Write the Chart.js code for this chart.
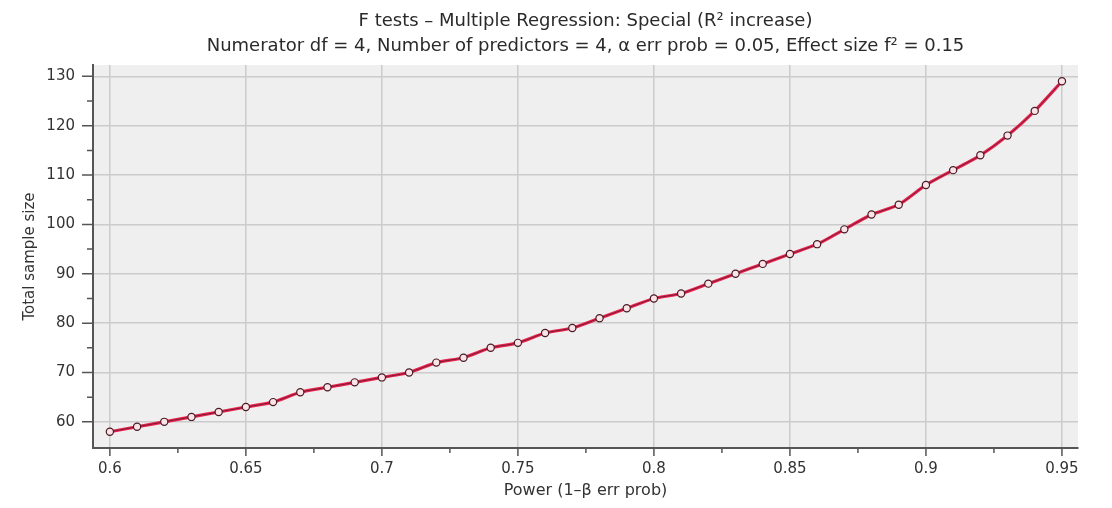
<!DOCTYPE html>
<html>
<head>
<meta charset="utf-8">
<script src="https://cdn.jsdelivr.net/npm/chart.js@4/dist/chart.umd.min.js"></script>
<style>
  html, body { margin: 0; padding: 0; background: #ffffff; }
  #wrap { width: 1112px; height: 508px; position: relative; }
</style>
</head>
<body>
<div id="wrap"><canvas id="chart"></canvas></div>
<script>
// power (1-beta) and the total sample size
const power = [0.60, 0.61, 0.62, 0.63, 0.64, 0.65, 0.66, 0.67, 0.68, 0.69,
               0.70, 0.71, 0.72, 0.73, 0.74, 0.75, 0.76, 0.77, 0.78, 0.79,
               0.80, 0.81, 0.82, 0.83, 0.84, 0.85, 0.86, 0.87, 0.88, 0.89,
               0.90, 0.91, 0.92, 0.93, 0.94, 0.95];
const sampleSize = [58, 59, 60, 61, 62, 63, 64, 66, 67, 68,
                    69, 70, 72, 73, 75, 76, 78, 79, 81, 83,
                    85, 86, 88, 90, 92, 94, 96, 99, 102, 104,
                    108, 111, 114, 118, 123, 129];

const xMajor = [0.6, 0.65, 0.7, 0.75, 0.8, 0.85, 0.9, 0.95];
const xLabels = ["0.6", "0.65", "0.7", "0.75", "0.8", "0.85", "0.9", "0.95"];
const xMinor = [0.625, 0.675, 0.725, 0.775, 0.825, 0.875, 0.925];
const yMajor = [60, 70, 80, 90, 100, 110, 120, 130];
const yLabels = ["60", "70", "80", "90", "100", "110", "120", "130"];
const yMinor = [65, 75, 85, 95, 105, 115, 125];

const titleText = "F tests \u2013 Multiple Regression: Special (R\u00b2 increase)";
const subtitleText = "Numerator df = 4, Number of predictors = 4, \u03b1 err prob = 0.05, Effect size f\u00b2 = 0.15";
const xTitle = "Power (1\u2013\u03b2 err prob)";
const yTitle = "Total sample size";

const FONT = "'DejaVu Sans', sans-serif";

const points = power.map((p, i) => ({ x: p, y: sampleSize[i] }));

// plot area fill
const areaFill = {
  id: "areaFill",
  beforeDraw(chart) {
    const { ctx, chartArea: a } = chart;
    ctx.save();
    ctx.fillStyle = "#efefef";
    ctx.fillRect(a.left, a.top, a.right - a.left, a.bottom - a.top);
    ctx.restore();
  }
};

// title lines centred on the plot area
const centredTitle = {
  id: "centredTitle",
  afterDraw(chart) {
    const { ctx, chartArea: a } = chart;
    const cx = (a.left + a.right) / 2;
    ctx.save();
    ctx.fillStyle = "#2a2a2a";
    ctx.textAlign = "center";
    ctx.textBaseline = "middle";
    ctx.font = "18px " + FONT;
    ctx.fillText(titleText, cx, 21);
    ctx.fillText(subtitleText, cx, 46);
    ctx.restore();
  }
};

// outward tick marks, long for labelled ticks, short between them
const tickMarks = {
  id: "tickMarks",
  afterDraw(chart) {
    const { ctx, chartArea: a, scales } = chart;
    ctx.save();
    ctx.strokeStyle = "#555";
    ctx.lineWidth = 1.5;
    ctx.beginPath();
    xMajor.forEach(v => { const px = scales.x.getPixelForValue(v); ctx.moveTo(px, a.bottom); ctx.lineTo(px, a.bottom + 8); });
    xMinor.forEach(v => { const px = scales.x.getPixelForValue(v); ctx.moveTo(px, a.bottom); ctx.lineTo(px, a.bottom + 5); });
    yMajor.forEach(v => { const py = scales.y.getPixelForValue(v); ctx.moveTo(a.left, py); ctx.lineTo(a.left - 11, py); });
    yMinor.forEach(v => { const py = scales.y.getPixelForValue(v); ctx.moveTo(a.left, py); ctx.lineTo(a.left - 6, py); });
    ctx.stroke();
    ctx.restore();
  }
};

function setTicks(major, minor) {
  return scale => {
    scale.ticks = major.concat(minor).sort((a, b) => a - b).map(v => ({ value: v }));
  };
}

const chart = new Chart(document.getElementById("chart"), {
  type: "line",
  data: {
    datasets: [
      {
        data: points,
        borderColor: "#ea2450",
        borderWidth: 3.2,
        pointRadius: 0,
        tension: 0.2,
        order: 2
      },
      {
        data: points,
        borderColor: "#5a1a28",
        borderWidth: 0.8,
        tension: 0.2,
        pointRadius: 3.6,
        pointBorderWidth: 1.2,
        pointBorderColor: "#4a1a24",
        pointBackgroundColor: "#fbe3e8",
        order: 1
      }
    ]
  },
  options: {
    responsive: true,
    maintainAspectRatio: false,
    animation: false,
    layout: { padding: { top: 65, right: 34, left: 0, bottom: 0 } },
    plugins: { legend: { display: false }, tooltip: { enabled: false } },
    scales: {
      x: {
        type: "linear",
        min: 0.5938,
        max: 0.9559,
        afterBuildTicks: setTicks(xMajor, xMinor),
        afterFit: s => { s.height = 60; },
        grid: {
          drawTicks: false,
          lineWidth: 1.5,
          color: c => (c.tick && xMajor.includes(c.tick.value)) ? "#cbcbcb" : "rgba(0,0,0,0)"
        },
        border: { display: true, color: "#555", width: 2 },
        ticks: {
          autoSkip: false,
          maxRotation: 0,
          padding: 12,
          color: "#333",
          font: { family: FONT, size: 15 },
          callback: v => { const i = xMajor.indexOf(v); return i >= 0 ? xLabels[i] : ""; }
        },
        title: {
          display: true,
          text: xTitle,
          color: "#333",
          font: { family: FONT, size: 16 },
          padding: { top: 0, bottom: 8 }
        }
      },
      y: {
        type: "linear",
        min: 54.7,
        max: 132.3,
        afterBuildTicks: setTicks(yMajor, yMinor),
        afterFit: s => { s.width = 93; },
        grid: {
          drawTicks: false,
          lineWidth: 1.5,
          color: c => (c.tick && yMajor.includes(c.tick.value)) ? "#cbcbcb" : "rgba(0,0,0,0)"
        },
        border: { display: true, color: "#555", width: 2 },
        ticks: {
          autoSkip: false,
          padding: 18,
          color: "#333",
          font: { family: FONT, size: 15 },
          callback: v => { const i = yMajor.indexOf(v); return i >= 0 ? yLabels[i] : ""; }
        },
        title: {
          display: true,
          text: yTitle,
          color: "#333",
          font: { family: FONT, size: 15 },
          padding: { top: 21, bottom: 0 }
        }
      }
    }
  },
  plugins: [areaFill, centredTitle, tickMarks]
});
</script>
</body>
</html>
